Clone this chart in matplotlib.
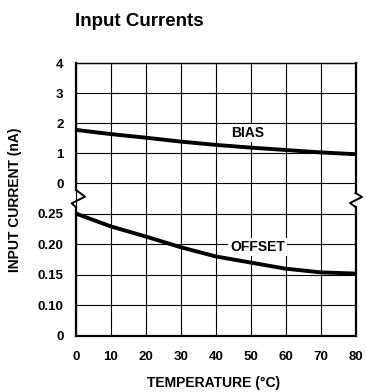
#!/usr/bin/env python3
import matplotlib
matplotlib.use('Agg')
import numpy as np
import matplotlib.pyplot as plt
from matplotlib.lines import Line2D

plt.rcParams['font.family'] = ['Liberation Sans', 'DejaVu Sans']
plt.rcParams['font.weight'] = 'bold'

# data
temp = [0, 10, 20, 30, 40, 50, 60, 70, 80]
bias_na = [1.78, 1.64, 1.52, 1.39, 1.28, 1.19, 1.11, 1.03, 0.97]
offset_na = [0.250, 0.229, 0.2125, 0.195, 0.180, 0.170, 0.160, 0.154, 0.152]

x_ticks = [0, 10, 20, 30, 40, 50, 60, 70, 80]
top_ticks = [0, 1, 2, 3, 4]
bot_ticks = [0, 0.10, 0.15, 0.20, 0.25]
bot_labels = ['0', '0.10', '0.15', '0.20', '0.25']

W, H = 366, 392


def fx(px):
    return px / W


def fy(py):
    return 1 - py / H


# lower panel: 0..0.10 squeezed into one grid row, then 0.05 per row
def fwd(v):
    v = np.asarray(v, dtype=float)
    return np.where(v <= 0.1, v * 10, 1 + (v - 0.1) / 0.05)


def inv(p):
    p = np.asarray(p, dtype=float)
    return np.where(p <= 1, p / 10, 0.1 + (p - 1) * 0.05)


fig = plt.figure(figsize=(W / 100, H / 100), dpi=100)
left, right = 76, 355.5
top_y, mid_y, bot_y = 63.3, 198.3, 336
ax_t = fig.add_axes([fx(left), fy(mid_y), fx(right - left), (mid_y - top_y) / H])
ax_b = fig.add_axes([fx(left), fy(bot_y), fx(right - left), (bot_y - mid_y) / H])

ax_b.set_yscale('function', functions=(fwd, inv))

ax_t.plot(temp, bias_na, color='black', lw=2.8, solid_capstyle='butt', zorder=3)
ax_b.plot(temp, offset_na, color='black', lw=2.8, solid_capstyle='butt', zorder=3)

for ax in (ax_t, ax_b):
    ax.set_xlim(0, 80)
    ax.set_xticks(x_ticks)
    ax.grid(True, color='black', lw=0.8)
    ax.set_axisbelow(True)
    ax.tick_params(length=0, labelsize=9.5, pad=9)
    for s in ('left', 'right'):
        ax.spines[s].set_linewidth(1.6)

ax_t.set_ylim(-0.5, 4)
ax_t.set_yticks(top_ticks)
ax_t.set_yticklabels([str(t) for t in top_ticks])
ax_t.tick_params(axis='x', labelbottom=False)
ax_t.spines['bottom'].set_visible(False)
ax_t.spines['top'].set_linewidth(1.0)
ax_t.spines['left'].set_bounds(-0.22, 4)
ax_t.spines['right'].set_bounds(-0.32, 4)

ax_b.set_ylim(0, 0.275)
ax_b.set_yticks(bot_ticks)
ax_b.set_yticklabels(bot_labels)
ax_b.spines['top'].set_visible(False)
ax_b.spines['bottom'].set_linewidth(1.6)
ax_b.spines['left'].set_bounds(0, 0.26)
ax_b.spines['right'].set_bounds(0, 0.26)
ax_b.tick_params(axis='x', pad=11)

# break marks on both borders
zig_l = [(76, 190), (85, 196.7), (71.7, 203.3), (76, 207.3)]
zig_r = [(355.5, 193), (362, 197), (350, 203), (355.5, 207)]
for zig in (zig_l, zig_r):
    fig.add_artist(Line2D([fx(p[0]) for p in zig], [fy(p[1]) for p in zig],
                          color='black', lw=1.4, transform=fig.transFigure))

box = dict(facecolor='white', edgecolor='none', pad=1.5)
ax_t.text(49, 1.67, 'BIAS', ha='center', va='center', fontsize=10,
          fontweight='bold', bbox=box, zorder=4)
ax_b.text(52, 0.195, 'OFFSET', ha='center', va='center', fontsize=10,
          fontweight='bold', bbox=box, zorder=4)

fig.text(fx(75), fy(26), 'Input Currents', ha='left', va='baseline',
         fontsize=13.5, fontweight='bold')
fig.text(fx(15), fy(200), 'INPUT CURRENT (nA)', rotation=90, ha='center',
         va='center', fontsize=10, fontweight='bold')
fig.text(fx(214), fy(383), 'TEMPERATURE (°C)', ha='center', va='center',
         fontsize=10, fontweight='bold')

plt.savefig('out.png', dpi=100)
